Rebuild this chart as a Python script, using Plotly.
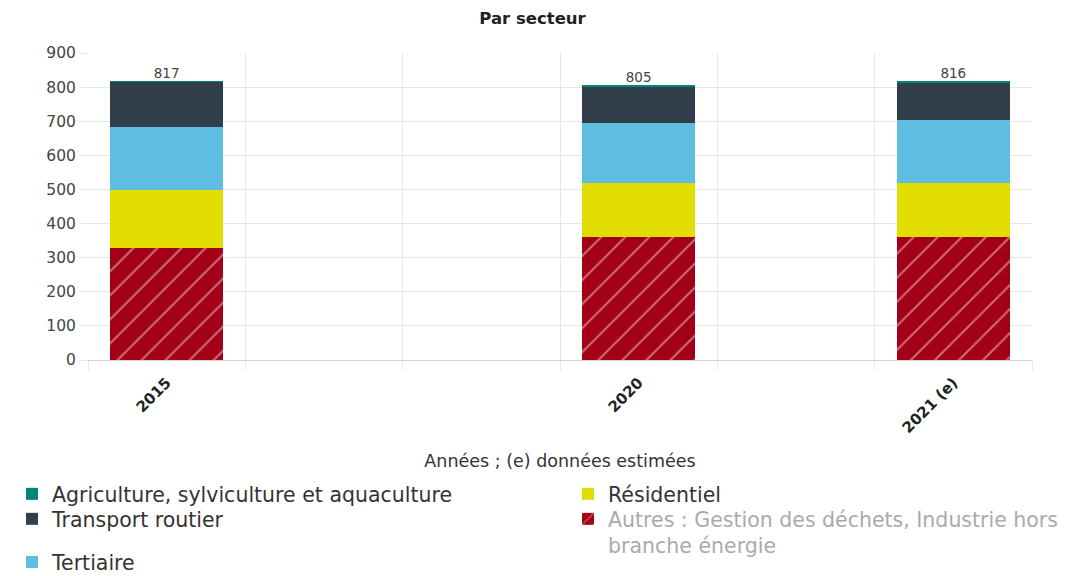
import plotly.graph_objects as go

# Data
years = ["2015", "2020", "2021 (e)"]
x_pos = [0.5, 3.5, 5.5]
autres = [327, 362, 362]
residentiel = [171, 157, 157]
tertiaire = [185, 176, 185]
transport = [132, 108, 110]
agriculture = [2, 2, 2]
totals = [817, 805, 816]
y_ticks = [0, 100, 200, 300, 400, 500, 600, 700, 800, 900]

FONT = "DejaVu Sans"
TXT = "#333333"

fig = go.Figure()

common = dict(x=x_pos, width=0.72, hoverinfo="skip")

fig.add_trace(go.Bar(
    name="<span style='color:#aaaaaa'>Autres : Gestion des déchets, Industrie hors<br>branche énergie</span>",
    y=autres, legend="legend5",
    marker=dict(color="#a30017", line=dict(width=0),
                pattern=dict(shape="/", fgcolor="#f6dcde", bgcolor="#a30017",
                             size=17, solidity=0.12)),
    **common))
fig.add_trace(go.Bar(name="Résidentiel", y=residentiel, legend="legend2",
                     marker=dict(color="#e2dd00", line=dict(width=0)), **common))
fig.add_trace(go.Bar(name="Tertiaire", y=tertiaire, legend="legend4",
                     marker=dict(color="#5fbde2", line=dict(width=0)), **common))
fig.add_trace(go.Bar(name="Transport routier", y=transport, legend="legend3",
                     marker=dict(color="#323e4a", line=dict(width=0)), **common))
fig.add_trace(go.Bar(name="Agriculture, sylviculture et aquaculture", y=agriculture,
                     legend="legend",
                     marker=dict(color="#00857a", line=dict(width=0)), **common))

fig.add_trace(go.Scatter(x=x_pos, y=totals, mode="text",
                         text=[str(t) for t in totals], textposition="top center",
                         textfont=dict(family=FONT, size=13.5, color="#444444"),
                         showlegend=False, hoverinfo="skip", cliponaxis=False))

legend_common = dict(orientation="v", yanchor="top", xanchor="left",
                     font=dict(family=FONT, size=20.5, color=TXT),
                     traceorder="normal", valign="top",
                     itemclick=False, itemdoubleclick=False, bgcolor="rgba(0,0,0,0)")

LX1, LX2 = -0.0805, 0.5085
R1, R2, R3 = -0.3713, -0.4528, -0.5935

fig.update_layout(
    width=1065, height=576,
    barmode="stack",
    paper_bgcolor="white", plot_bgcolor="white",
    margin=dict(l=88, r=33, t=53, b=216, autoexpand=False),
    font=dict(family=FONT, color=TXT),
    title=dict(text="<b>Par secteur</b>", x=0.5, xanchor="center", y=0.969, yanchor="middle",
               font=dict(family=FONT, size=16.5, color="#222222")),
    showlegend=True,
    legend=dict(x=LX1, y=R1, **legend_common),
    legend3=dict(x=LX1, y=R2, **legend_common),
    legend4=dict(x=LX1, y=R3, **legend_common),
    legend2=dict(x=LX2, y=R1, **legend_common),
    legend5=dict(x=LX2, y=R2, **legend_common),
    xaxis=dict(range=[0, 6], tickmode="array", tickvals=x_pos, ticktext=years,
               tickangle=-45, ticks="outside", ticklen=7, tickcolor="rgba(0,0,0,0)",
               showgrid=False,
               tickfont=dict(family=FONT, size=15, color="#222222", weight="bold"),
               showline=True, linecolor="#d0d0d0", linewidth=1,
               minor=dict(tickmode="array", tickvals=[0, 1, 2, 3, 4, 5, 6],
                          showgrid=True, gridcolor="#e6e6e6", gridwidth=1,
                          ticks="outside", ticklen=9, tickcolor="#e6e6e6"),
               title=dict(text="Années ; (e) données estimées", standoff=19,
                          font=dict(family=FONT, size=17.5, color=TXT)),
               zeroline=False, fixedrange=True),
    yaxis=dict(range=[0, 900], tickmode="array", tickvals=y_ticks,
               showgrid=True, gridcolor="#e6e6e6", gridwidth=1,
               ticks="outside", ticklen=8, tickcolor="#e6e6e6",
               tickfont=dict(family=FONT, size=15.5, color="#444444"),
               zeroline=False, showline=False, fixedrange=True),
)

fig.write_html("out.html", config={"displayModeBar": False},
               post_script="document.body.style.margin='0';")
